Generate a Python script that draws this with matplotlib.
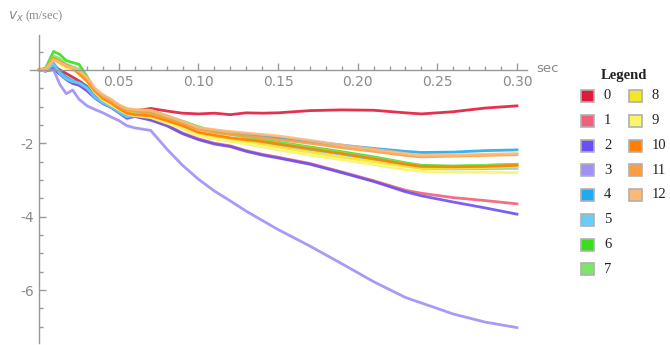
import matplotlib
matplotlib.use("Agg")
import matplotlib.pyplot as plt
from matplotlib.patches import Rectangle
from matplotlib.ticker import FixedLocator, MultipleLocator

# time grid (sec)
t = [0, 0.004, 0.009, 0.013, 0.017, 0.021, 0.025, 0.03, 0.035, 0.04, 0.045, 0.05,
     0.055, 0.06, 0.07, 0.08, 0.09, 0.10, 0.11, 0.12, 0.13, 0.14, 0.15, 0.17,
     0.19, 0.21, 0.23, 0.24, 0.26, 0.28, 0.30]

v0 = [0, -0.03, 0.1, 0.0, -0.1, -0.2, -0.3, -0.45, -0.65, -0.8, -0.95, -1.1,
      -1.2, -1.12, -1.05, -1.12, -1.18, -1.2, -1.18, -1.22, -1.17, -1.18, -1.17, -1.11,
      -1.09, -1.1, -1.17, -1.2, -1.14, -1.04, -0.98]
v1 = [0, -0.03, 0.05, -0.1, -0.25, -0.35, -0.4, -0.55, -0.75, -0.9, -1.0, -1.15,
      -1.3, -1.25, -1.35, -1.5, -1.72, -1.88, -2.0, -2.07, -2.2, -2.3, -2.38, -2.55,
      -2.78, -3.02, -3.28, -3.36, -3.48, -3.56, -3.65]
v2 = [0, -0.03, 0.02, -0.12, -0.27, -0.37, -0.42, -0.57, -0.77, -0.92, -1.02, -1.17,
      -1.32, -1.27, -1.37, -1.52, -1.74, -1.9, -2.02, -2.09, -2.22, -2.32, -2.4, -2.57,
      -2.8, -3.04, -3.32, -3.43, -3.6, -3.76, -3.93]
v3 = [0, -0.03, 0.0, -0.4, -0.65, -0.55, -0.8, -0.98, -1.08, -1.17, -1.28, -1.38,
      -1.52, -1.58, -1.65, -2.15, -2.6, -2.98, -3.3, -3.57, -3.85, -4.1, -4.35, -4.8,
      -5.28, -5.77, -6.2, -6.35, -6.65, -6.87, -7.02]
v4 = [0, 0.0, 0.18, -0.05, -0.2, -0.3, -0.35, -0.45, -0.7, -0.85, -0.98, -1.1,
      -1.25, -1.2, -1.15, -1.3, -1.45, -1.6, -1.66, -1.72, -1.75, -1.8, -1.86, -1.95,
      -2.05, -2.14, -2.22, -2.25, -2.24, -2.2, -2.18]
v5 = [0, -0.02, 0.15, -0.1, -0.25, -0.32, -0.36, -0.5, -0.75, -0.9, -1.0, -1.15,
      -1.28, -1.25, -1.22, -1.38, -1.55, -1.72, -1.8, -1.87, -1.92, -1.98, -2.06, -2.18,
      -2.3, -2.45, -2.6, -2.68, -2.7, -2.69, -2.68]
v6 = [0, 0.05, 0.5, 0.42, 0.25, 0.2, 0.15, -0.18, -0.55, -0.7, -0.83, -0.97,
      -1.07, -1.1, -1.1, -1.25, -1.4, -1.55, -1.68, -1.72, -1.82, -1.9, -1.97, -2.1,
      -2.23, -2.37, -2.53, -2.6, -2.62, -2.6, -2.57]
v7 = [0, 0.03, 0.38, 0.3, 0.15, 0.08, 0.02, -0.25, -0.6, -0.75, -0.88, -1.0,
      -1.1, -1.12, -1.15, -1.28, -1.42, -1.58, -1.7, -1.75, -1.84, -1.92, -1.99, -2.12,
      -2.26, -2.4, -2.55, -2.62, -2.63, -2.6, -2.58]
v8 = [0, 0.02, 0.3, 0.2, 0.1, 0.02, -0.1, -0.3, -0.6, -0.8, -0.92, -1.05,
      -1.15, -1.2, -1.25, -1.38, -1.55, -1.75, -1.82, -1.88, -1.95, -2.02, -2.1, -2.24,
      -2.38, -2.5, -2.63, -2.68, -2.68, -2.66, -2.64]
v9 = [0, 0.0, 0.28, 0.15, 0.05, -0.02, -0.12, -0.32, -0.62, -0.82, -0.95, -1.08,
      -1.2, -1.25, -1.3, -1.45, -1.6, -1.8, -1.88, -1.95, -2.02, -2.1, -2.18, -2.32,
      -2.45, -2.58, -2.72, -2.76, -2.79, -2.79, -2.8]
v10 = [0, 0.02, 0.32, 0.22, 0.12, 0.05, -0.1, -0.3, -0.58, -0.78, -0.9, -1.05,
       -1.18, -1.22, -1.25, -1.38, -1.52, -1.7, -1.78, -1.85, -1.9, -1.95, -2.02, -2.15,
       -2.28, -2.42, -2.57, -2.63, -2.64, -2.63, -2.6]
v11 = [0, 0.02, 0.3, 0.2, 0.1, 0.05, -0.05, -0.25, -0.55, -0.72, -0.85, -1.0,
       -1.1, -1.12, -1.15, -1.3, -1.45, -1.62, -1.7, -1.76, -1.8, -1.85, -1.9, -2.0,
       -2.12, -2.22, -2.33, -2.37, -2.35, -2.33, -2.31]
v12 = [0, 0.02, 0.28, 0.2, 0.1, 0.05, -0.02, -0.2, -0.5, -0.68, -0.8, -0.95,
       -1.05, -1.08, -1.1, -1.25, -1.4, -1.57, -1.63, -1.68, -1.72, -1.76, -1.8, -1.92,
       -2.05, -2.16, -2.28, -2.33, -2.32, -2.3, -2.28]

series = [v0, v1, v2, v3, v4, v5, v6, v7, v8, v9, v10, v11, v12]
names = [str(i) for i in range(13)]
colors = ["#e01a3c", "#f0607a", "#6a50f0", "#a08ff8", "#20aaf0", "#68cdf8",
          "#38e01c", "#7ae866", "#f5e62a", "#fbf46c", "#ff8000", "#ff9c40", "#ffb878"]

xticks = [0.05, 0.10, 0.15, 0.20, 0.25, 0.30]
xticklabels = ["0.05", "0.10", "0.15", "0.20", "0.25", "0.30"]
yticks = [-6, -4, -2]
yticklabels = ["-6", "-4", "-2"]

W, H = 670, 345
fig = plt.figure(figsize=(W / 100, H / 100), dpi=100)
ax = fig.add_axes([30 / W, 2 / H, 497 / W, 308 / H])

for v, c in zip(series, colors):
    ax.plot(t, v, color=c, lw=2, alpha=0.9, solid_joinstyle="round")

ax.set_xlim(-0.0058, 0.3063)
ax.set_ylim(-7.44, 0.95)

axis_grey = "#999999"
for side in ["top", "right"]:
    ax.spines[side].set_visible(False)
ax.spines["left"].set_position(("data", 0))
ax.spines["bottom"].set_position(("data", 0))
for side in ["left", "bottom"]:
    ax.spines[side].set_color(axis_grey)
    ax.spines[side].set_linewidth(1.0)

ax.xaxis.set_major_locator(FixedLocator(xticks))
ax.set_xticklabels(xticklabels)
ax.xaxis.set_minor_locator(MultipleLocator(0.01))
ax.yaxis.set_major_locator(FixedLocator(yticks))
ax.set_yticklabels(yticklabels)
ax.yaxis.set_minor_locator(MultipleLocator(0.5))

ax.tick_params(which="both", direction="in", color=axis_grey, labelcolor="#8a8a8a",
               labelsize=10, width=1.0)
ax.tick_params(which="major", length=5, pad=4)
ax.tick_params(which="minor", length=3)

fig.text(8 / W, 1 - 17 / H, r"$v_x$", color="#8a8a8a", fontsize=10,
         va="center", ha="left")
fig.text(26 / W, 1 - 16 / H, "(m/sec)", color="#8a8a8a", fontsize=9,
         family="Liberation Serif", va="center", ha="left")
fig.text(536 / W, 1 - 68 / H, "sec", color="#8a8a8a", fontsize=9.5,
         va="center", ha="left")

# legend, drawn by hand: 8 entries in the first column, 5 in the second
fig.text(624 / W, 1 - 75 / H, "Legend", color="#222222", fontsize=10.5,
         family="Liberation Serif", fontweight="bold", ha="center", va="center")
row0, dy = 96, 24.75
for i, (name, c) in enumerate(zip(names, colors)):
    col, row = (0, i) if i < 8 else (1, i - 8)
    sx = 581 + col * 48
    sy = row0 + row * dy
    fig.add_artist(Rectangle((sx / W, 1 - (sy + 6) / H), 13 / W, 12 / H,
                             transform=fig.transFigure, facecolor=c,
                             edgecolor="#b0b0b0", lw=1.2))
    fig.text((sx + 23) / W, 1 - sy / H, name, color="#222222", fontsize=10.5,
             family="Liberation Serif", ha="left", va="center")

fig.savefig("out.png", dpi=100)
